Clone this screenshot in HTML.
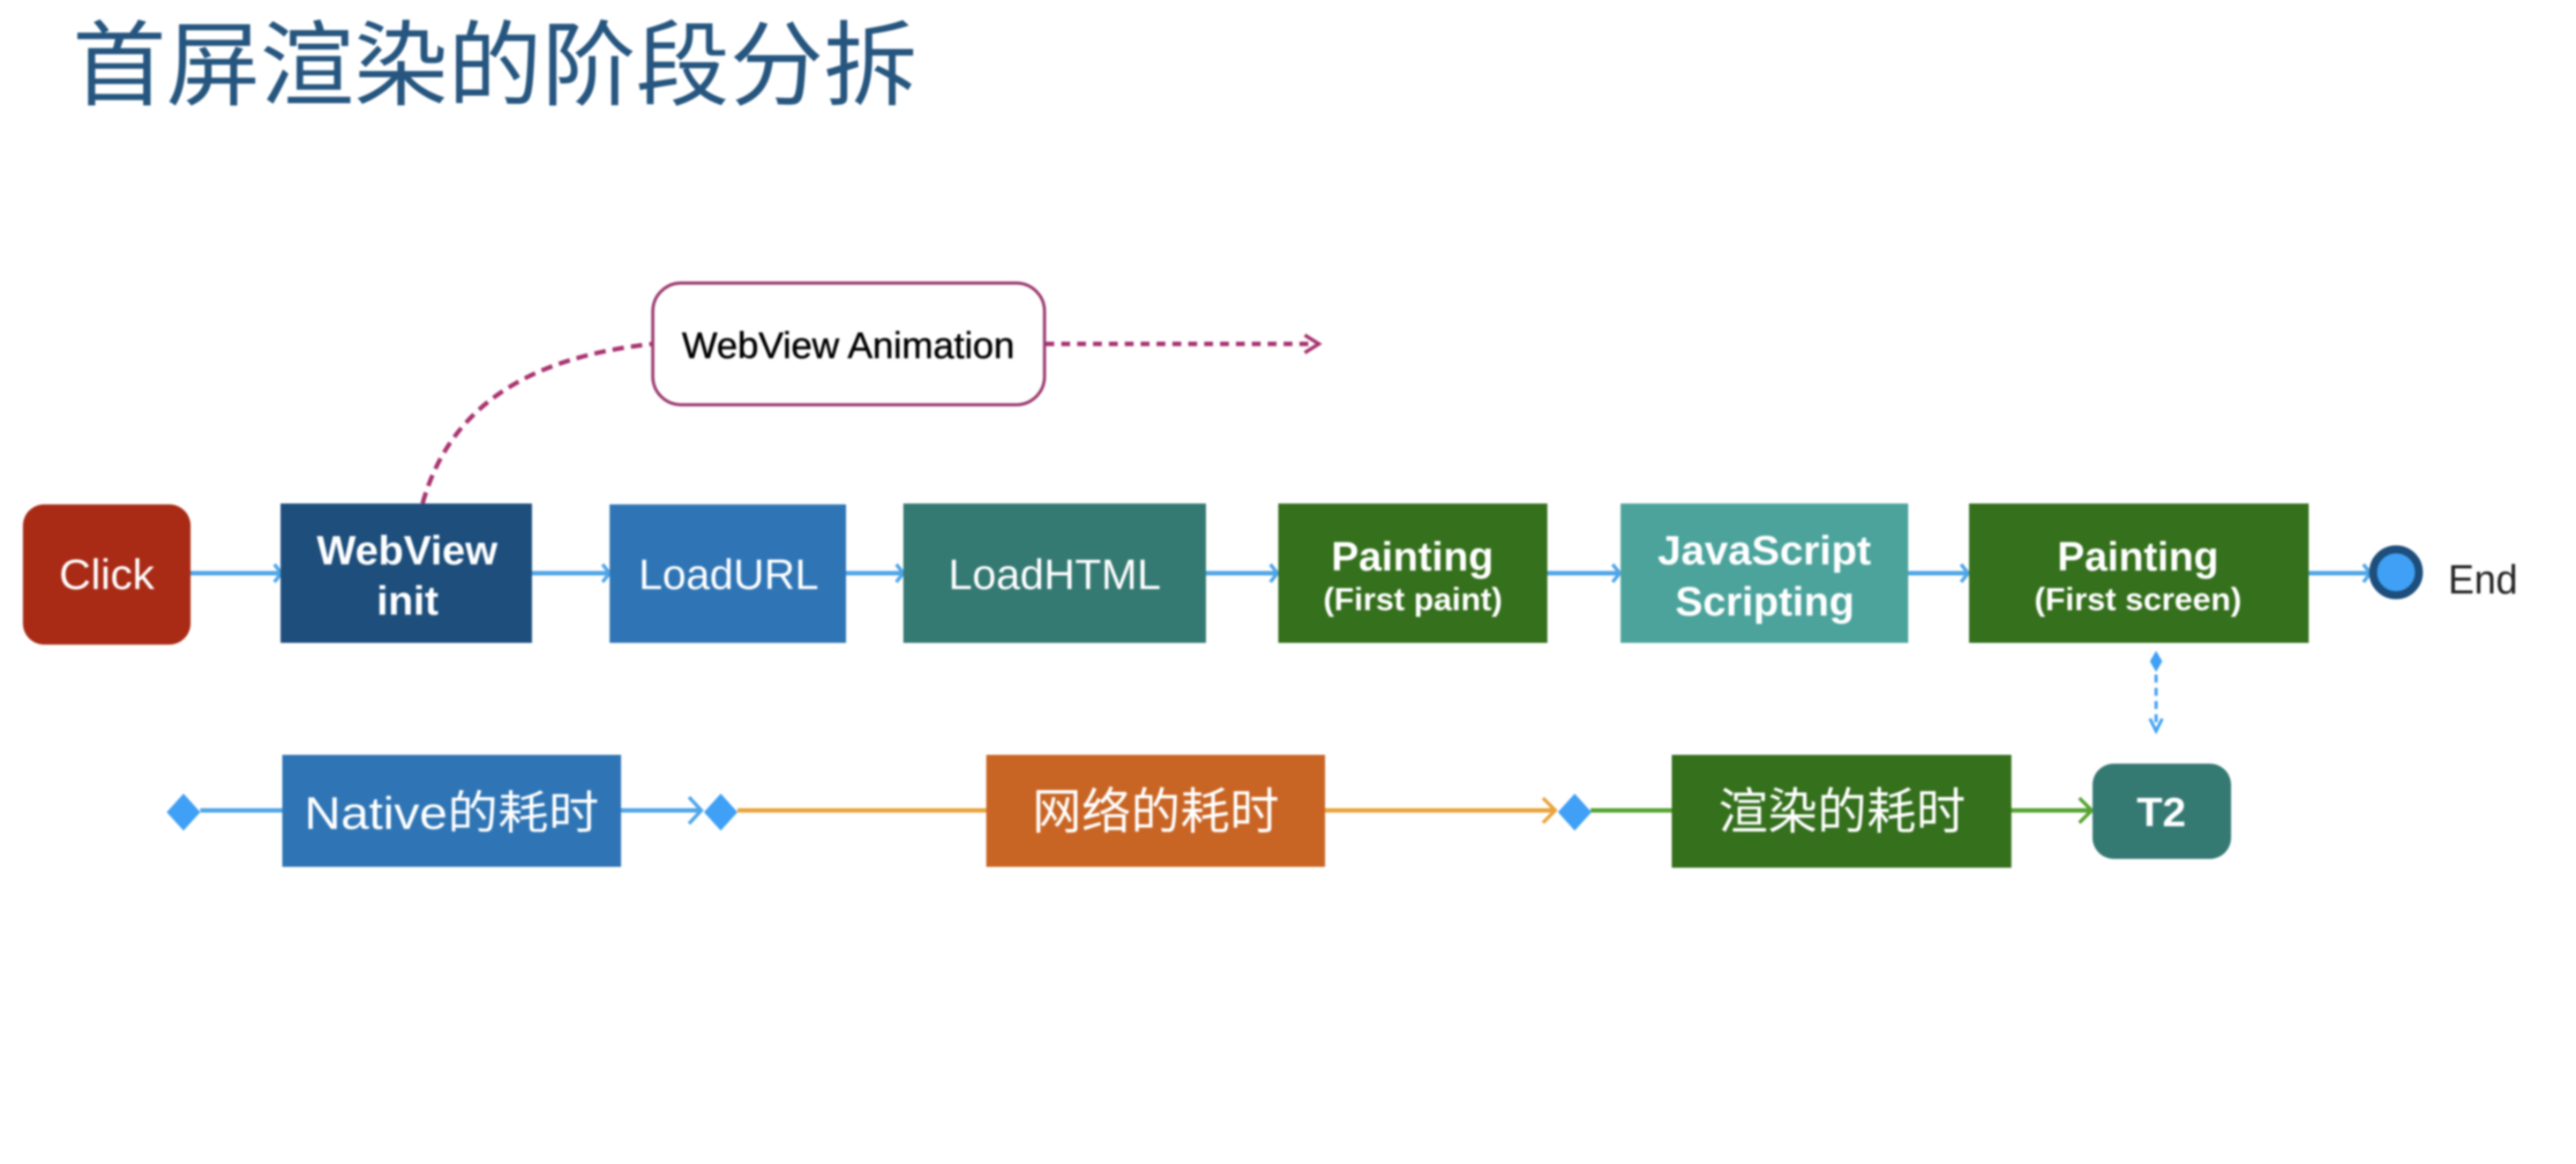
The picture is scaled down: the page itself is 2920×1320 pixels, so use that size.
<!DOCTYPE html>
<html lang="zh">
<head>
<meta charset="utf-8">
<title>首屏渲染的阶段分拆</title>
<style>
html,body{margin:0;padding:0;background:#fff;width:2920px;height:1320px;overflow:hidden}
svg{display:block;filter:blur(1.1px)}
text{font-family:"Liberation Sans","Noto Sans CJK SC",sans-serif}
</style>
</head>
<body>
<svg width="2920" height="1320" viewBox="0 0 2920 1320" xmlns="http://www.w3.org/2000/svg">
<rect width="2920" height="1320" fill="#fff"/>

<text x="82" y="111" font-size="105" fill="#26567F" textLength="958" lengthAdjust="spacingAndGlyphs">首屏渲染的阶段分拆</text>

<!-- Magenta connectors -->
<g fill="none" stroke="#A8336F" stroke-width="5">
<path d="M479 571 C 510 460, 600 405, 740 390" stroke-dasharray="13 8"/>
<path d="M1185 390 H1490" stroke-dasharray="10 8"/>
<path d="M1479 380 L1495 390 L1479 400" stroke-width="4"/>
</g>
<rect x="740" y="321" width="444" height="138" rx="32" fill="#fff" stroke="#9B3A6E" stroke-width="3.5"/>
<text x="773" y="406" font-size="42" fill="#000" stroke="#000" stroke-width="0.5" textLength="377" lengthAdjust="spacingAndGlyphs">WebView Animation</text>

<!-- Top row connectors -->
<g fill="none" stroke="#4EA5E8" stroke-width="5">
<path d="M216 650 H316"/><path d="M603 650 H689"/><path d="M959 650 H1022"/>
<path d="M1367 650 H1446"/><path d="M1754 650 H1834"/><path d="M2163 650 H2229"/><path d="M2616 650 H2685"/>
<g stroke-width="4">
<path d="M311 640 L319 650 L311 660"/><path d="M683 640 L691 650 L683 660"/><path d="M1016 640 L1024 650 L1016 660"/>
<path d="M1440 640 L1448 650 L1440 660"/><path d="M1828 640 L1836 650 L1828 660"/><path d="M2223 640 L2231 650 L2223 660"/>
<path d="M2679 640 L2687 650 L2679 660"/>
</g>
</g>

<!-- Top row nodes -->
<rect x="26" y="572" width="190" height="159" rx="24" fill="#A92B16"/>
<text x="67" y="668" font-size="48" fill="#fff" textLength="108" lengthAdjust="spacingAndGlyphs">Click</text>

<rect x="318" y="571" width="285" height="158" fill="#1D4E7C"/>
<text x="359" y="640" font-size="46" font-weight="700" fill="#fff" textLength="205" lengthAdjust="spacingAndGlyphs">WebView</text>
<text x="427" y="697" font-size="46" font-weight="700" fill="#fff" textLength="70" lengthAdjust="spacingAndGlyphs">init</text>

<rect x="691" y="572" width="268" height="157" fill="#2F75B5"/>
<text x="724" y="668" font-size="48" fill="#fff" textLength="204" lengthAdjust="spacingAndGlyphs">LoadURL</text>

<rect x="1024" y="571" width="343" height="158" fill="#357973"/>
<text x="1075" y="668" font-size="48" fill="#fff" textLength="241" lengthAdjust="spacingAndGlyphs">LoadHTML</text>

<rect x="1449" y="571" width="305" height="158" fill="#35701D"/>
<text x="1509" y="647" font-size="46" font-weight="700" fill="#fff" textLength="184" lengthAdjust="spacingAndGlyphs">Painting</text>
<text x="1500" y="692" font-size="36" font-weight="700" fill="#fff" textLength="203" lengthAdjust="spacingAndGlyphs">(First paint)</text>

<rect x="1837" y="571" width="326" height="158" fill="#4CA39C"/>
<text x="1879" y="640" font-size="46" font-weight="700" fill="#fff" textLength="242" lengthAdjust="spacingAndGlyphs">JavaScript</text>
<text x="1899" y="698" font-size="46" font-weight="700" fill="#fff" textLength="203" lengthAdjust="spacingAndGlyphs">Scripting</text>

<rect x="2232" y="571" width="385" height="158" fill="#35701D"/>
<text x="2332" y="647" font-size="46" font-weight="700" fill="#fff" textLength="183" lengthAdjust="spacingAndGlyphs">Painting</text>
<text x="2306" y="692" font-size="36" font-weight="700" fill="#fff" textLength="235" lengthAdjust="spacingAndGlyphs">(First screen)</text>

<circle cx="2716" cy="649" r="26" fill="#3FA0F5" stroke="#1D4E7C" stroke-width="9"/>
<text x="2775" y="673" font-size="46" fill="#222" textLength="79" lengthAdjust="spacingAndGlyphs">End</text>

<!-- Vertical dashed double-arrow -->
<path d="M2444 750 V820" fill="none" stroke="#3FA0F5" stroke-width="3.5" stroke-dasharray="9 6"/>
<path d="M2444 738 L2451 750 L2444 762 L2437 750 Z" fill="#3FA0F5"/>
<path d="M2437 815 L2444 829 L2451 815" fill="none" stroke="#3FA0F5" stroke-width="3.5"/>

<!-- Bottom row connectors -->
<g fill="none" stroke-width="5">
<path d="M227 919 H320" stroke="#4EA5E8"/>
<path d="M704 919 H793" stroke="#4EA5E8"/>
<path d="M781 904 L795 919 L781 934" stroke="#4EA5E8" stroke-width="4"/>
<path d="M836 919 H1118" stroke="#E9A33C"/>
<path d="M1502 919 H1760" stroke="#E9A33C"/>
<path d="M1749 905 L1763 919 L1749 933" stroke="#E9A33C" stroke-width="4"/>
<path d="M1803 919 H1895" stroke="#55A32F"/>
<path d="M2280 919 H2368" stroke="#55A32F"/>
<path d="M2357 905 L2371 919 L2357 933" stroke="#55A32F" stroke-width="4"/>
</g>
<g fill="#3FA0F5">
<path d="M208 900 L227 921 L208 942 L189 921 Z"/>
<path d="M817 900 L836 921 L817 942 L798 921 Z"/>
<path d="M1785 900 L1804 921 L1785 942 L1766 921 Z"/>
</g>

<!-- Bottom row nodes -->
<rect x="320" y="856" width="384" height="127" fill="#2F75B5"/>
<text x="345" y="940" font-size="52" fill="#fff" textLength="334" lengthAdjust="spacingAndGlyphs">Native的耗时</text>

<rect x="1118" y="856" width="384" height="127" fill="#C96524"/>
<text x="1170" y="940" font-size="56" fill="#fff" textLength="280" lengthAdjust="spacingAndGlyphs">网络的耗时</text>

<rect x="1895" y="856" width="385" height="128" fill="#35701D"/>
<text x="1948" y="940" font-size="56" fill="#fff" textLength="280" lengthAdjust="spacingAndGlyphs">渲染的耗时</text>

<rect x="2372" y="866" width="157" height="108" rx="24" fill="#357973"/>
<text x="2422" y="937" font-size="46" font-weight="700" fill="#fff" textLength="56" lengthAdjust="spacingAndGlyphs">T2</text>
</svg>
</body>
</html>
